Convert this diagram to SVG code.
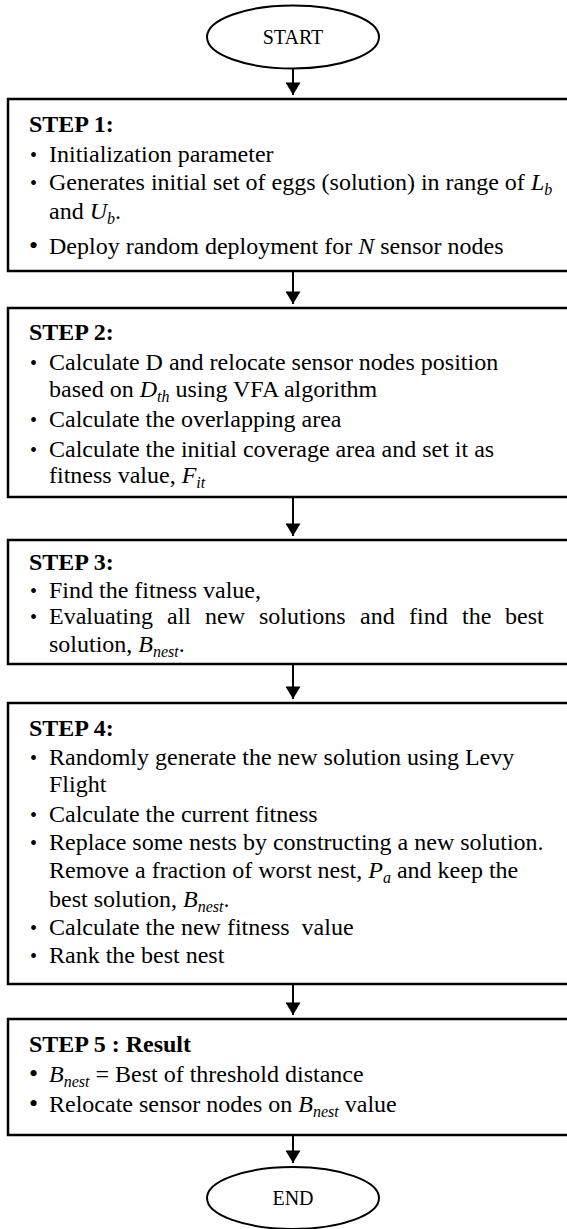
<svg xmlns="http://www.w3.org/2000/svg" width="567" height="1229" viewBox="0 0 567 1229">
<defs>
<style>
.box{fill:#fff;stroke:#000;stroke-width:2.5}
.ell{fill:#fff;stroke:#000;stroke-width:2}
.t{font-family:"Liberation Serif","Times New Roman",serif;font-size:24px;fill:#000}
.h{font-family:"Liberation Serif","Times New Roman",serif;font-size:24px;font-weight:bold;fill:#000}
.term{font-family:"Liberation Serif","Times New Roman",serif;font-size:20px;fill:#000}
.b{font-family:"Liberation Serif","Times New Roman",serif;font-size:20px;fill:#000}
.bb{font-family:"Liberation Serif","Times New Roman",serif;font-size:26px;fill:#000}
.i{font-style:italic}
.s{font-style:italic;font-size:16px}
.con{stroke:#000;stroke-width:2;fill:none}
</style>
<marker id="ah" viewBox="0 0 10 12" refX="10" refY="6" markerWidth="18" markerHeight="15" markerUnits="userSpaceOnUse" orient="auto">
<path d="M0,0 L10,6 L0,12 Z" fill="#000"/>
</marker>
</defs>
<rect width="567" height="1229" fill="#fff"/>
<g id="connectors">
<line class="con" x1="293" y1="68.5" x2="293" y2="95" marker-end="url(#ah)"/>
<line class="con" x1="293" y1="271" x2="293" y2="304" marker-end="url(#ah)"/>
<line class="con" x1="293" y1="497" x2="293" y2="536" marker-end="url(#ah)"/>
<line class="con" x1="293" y1="664" x2="293" y2="699" marker-end="url(#ah)"/>
<line class="con" x1="293" y1="984" x2="293" y2="1015" marker-end="url(#ah)"/>
<line class="con" x1="293" y1="1135" x2="293" y2="1163" marker-end="url(#ah)"/>
</g>
<g id="start">
<ellipse class="ell" cx="293" cy="37" rx="86" ry="31.5"/>
<text class="term" x="293" y="44" text-anchor="middle">START</text>
</g>
<g id="step1">
<rect class="box" x="8" y="99" width="570" height="172"/>
<text class="h" x="29" y="132">STEP 1:</text>
<text class="b" x="30" y="162">•</text>
<text class="t" x="49" y="162">Initialization parameter</text>
<text class="b" x="30" y="190">•</text>
<text class="t" x="49" y="190">Generates initial set of eggs (solution) in range of <tspan class="i">L</tspan><tspan class="s" dy="5">b</tspan></text>
<text class="t" x="49" y="219">and <tspan class="i">U</tspan><tspan class="s" dy="5">b</tspan><tspan dy="-5">.</tspan></text>
<text class="bb" x="29" y="254">•</text>
<text class="t" x="49" y="254">Deploy random deployment for <tspan class="i">N</tspan> sensor nodes</text>
</g>
<g id="step2">
<rect class="box" x="8" y="308" width="570" height="189"/>
<text class="h" x="29" y="340">STEP 2:</text>
<text class="b" x="30" y="370">•</text>
<text class="t" x="49" y="370">Calculate D and relocate sensor nodes position</text>
<text class="t" x="49" y="397">based on <tspan class="i">D</tspan><tspan class="s" dy="5">th</tspan><tspan dy="-5"> using VFA algorithm</tspan></text>
<text class="b" x="30" y="427">•</text>
<text class="t" x="49" y="427">Calculate the overlapping area</text>
<text class="b" x="30" y="457">•</text>
<text class="t" x="49" y="457">Calculate the initial coverage area and set it as</text>
<text class="t" x="49" y="483">fitness value, <tspan class="i">F</tspan><tspan class="s" dy="5">it</tspan></text>
</g>
<g id="step3">
<rect class="box" x="8" y="540" width="570" height="124"/>
<text class="h" x="29" y="570">STEP 3:</text>
<text class="b" x="30" y="598">•</text>
<text class="t" x="49" y="598">Find the fitness value,</text>
<text class="b" x="30" y="624">•</text>
<text class="t" y="624"><tspan x="49">Evaluating</tspan><tspan x="167">all</tspan><tspan x="205">new</tspan><tspan x="259">solutions</tspan><tspan x="360">and</tspan><tspan x="409">find</tspan><tspan x="462">the</tspan><tspan x="505">best</tspan></text>
<text class="t" x="49" y="652">solution, <tspan class="i">B</tspan><tspan class="s" dy="5">nest</tspan><tspan dy="-5">.</tspan></text>
</g>
<g id="step4">
<rect class="box" x="8" y="703" width="570" height="281"/>
<text class="h" x="29" y="736">STEP 4:</text>
<text class="b" x="30" y="765">•</text>
<text class="t" x="49" y="765">Randomly generate the new solution using Levy</text>
<text class="t" x="49" y="792">Flight</text>
<text class="b" x="30" y="822">•</text>
<text class="t" x="49" y="822">Calculate the current fitness</text>
<text class="b" x="30" y="850">•</text>
<text class="t" x="49" y="850">Replace some nests by constructing a new solution.</text>
<text class="t" x="49" y="878">Remove a fraction of worst nest, <tspan class="i">P</tspan><tspan class="s" dy="5">a</tspan><tspan dy="-5"> and keep the</tspan></text>
<text class="t" x="49" y="907">best solution, <tspan class="i">B</tspan><tspan class="s" dy="5">nest</tspan><tspan dy="-5">.</tspan></text>
<text class="b" x="30" y="935">•</text>
<text class="t" x="49" y="935" xml:space="preserve">Calculate the new fitness  value</text>
<text class="b" x="30" y="963">•</text>
<text class="t" x="49" y="963">Rank the best nest</text>
</g>
<g id="step5">
<rect class="box" x="8" y="1019" width="570" height="116"/>
<text class="h" x="29" y="1052">STEP 5 : Result</text>
<text class="bb" x="29" y="1082">•</text>
<text class="t" x="49" y="1082"><tspan class="i">B</tspan><tspan class="s" dy="5">nest</tspan><tspan dy="-5"> = Best of threshold distance</tspan></text>
<text class="bb" x="29" y="1112">•</text>
<text class="t" x="49" y="1112">Relocate sensor nodes on <tspan class="i">B</tspan><tspan class="s" dy="5">nest</tspan><tspan dy="-5"> value</tspan></text>
</g>
<g id="end">
<ellipse class="ell" cx="293" cy="1198" rx="86" ry="31"/>
<text class="term" x="293" y="1205" text-anchor="middle">END</text>
</g>
</svg>
